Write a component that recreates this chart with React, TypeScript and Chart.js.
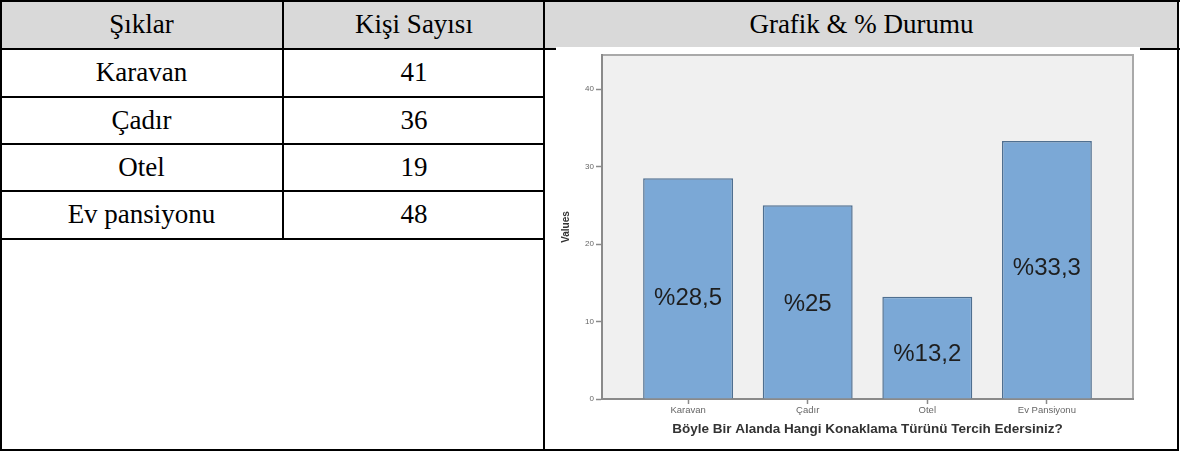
import React, { useEffect, useRef } from "react";
import { Chart, registerables } from "chart.js";

Chart.register(...registerables);

// ---- data ----
const headers = ["Şıklar", "Kişi Sayısı", "Grafik & % Durumu"];
const choices = ["Karavan", "Çadır", "Otel", "Ev pansiyonu"];
const counts = [41, 36, 19, 48];
const chartCategories = ["Karavan", "Çadır", "Otel", "Ev Pansiyonu"];
const percentValues = [28.5, 25, 13.2, 33.3];
const yTicks = [0, 10, 20, 30, 40];
const xTitle = "Böyle Bir Alanda Hangi Konaklama Türünü Tercih Edersiniz?";
const yTitle = "Values";

const serif = '"Liberation Serif", "Times New Roman", serif';
const sans = '"Liberation Sans", Arial, sans-serif';

function Line({ x, y, w, h }: { x: number; y: number; w: number; h: number }) {
  return <div style={{ position: "absolute", left: x, top: y, width: w, height: h, background: "#000" }} />;
}

function Cell({ x, y, w, h, text }: { x: number; y: number; w: number; h: number; text: string }) {
  return (
    <div
      style={{
        position: "absolute",
        left: x,
        top: y,
        width: w,
        height: h,
        display: "flex",
        alignItems: "center",
        justifyContent: "center",
        fontFamily: serif,
        fontSize: 27,
        color: "#000",
        whiteSpace: "nowrap",
      }}
    >
      {text}
    </div>
  );
}

function BarChart() {
  const ref = useRef<HTMLCanvasElement | null>(null);
  useEffect(() => {
    if (!ref.current) return;
    const plotBg = {
      id: "plotBg",
      beforeDraw(chart: any) {
        const { ctx, chartArea: a } = chart;
        ctx.save();
        ctx.fillStyle = "#ffffff";
        ctx.fillRect(0, 0, chart.width, chart.height);
        ctx.fillStyle = "#f0f0f0";
        ctx.fillRect(a.left, a.top, a.right - a.left, a.bottom - a.top);
        ctx.strokeStyle = "#a9a9a9";
        ctx.lineWidth = 2;
        ctx.beginPath();
        ctx.moveTo(a.left, a.top);
        ctx.lineTo(a.right, a.top);
        ctx.lineTo(a.right, a.bottom);
        ctx.stroke();
        ctx.restore();
      },
    };
    const pctLabels = {
      id: "pctLabels",
      afterDatasetsDraw(chart: any, _args: any, opts: any) {
        const { ctx } = chart;
        const meta = chart.getDatasetMeta(0);
        const yScale = chart.scales.y;
        ctx.save();
        ctx.font = '24px "Liberation Sans", Arial, sans-serif';
        ctx.fillStyle = "#1e1e1e";
        ctx.textAlign = "center";
        ctx.textBaseline = "middle";
        meta.data.forEach((bar: any, i: number) => {
          const v = percentValues[i];
          const y = yScale.getPixelForValue(v * opts.fractions[i]);
          ctx.fillText("%" + String(v).replace(".", ","), bar.x, y);
        });
        ctx.restore();
      },
    };
    const chart = new Chart(ref.current, {
      type: "bar",
      data: {
        datasets: [
          {
            data: percentValues.map((v, i) => ({ x: i + 1, y: v })),
            backgroundColor: "#7ba8d6",
            borderColor: "#4f6f90",
            borderWidth: 1.5,
            barPercentage: 0.752,
            categoryPercentage: 1,
          },
        ],
      },
      options: {
        responsive: false,
        animation: false,
        layout: { padding: { top: 8, right: 7, bottom: 0, left: 0 } },
        plugins: {
          legend: { display: false },
          tooltip: { enabled: false },
          pctLabels: { fractions: [0.456, 0.49, 0.44, 0.505] },
        } as any,
        scales: {
          x: {
            type: "linear",
            min: 0.28,
            max: 4.72,
            offset: false,
            afterBuildTicks: (scale: any) => {
              scale.ticks = chartCategories.map((_, i) => ({ value: i + 1 }));
            },
            afterFit: (scale: any) => {
              scale.height = 50;
            },
            ticks: {
              autoSkip: false,
              maxRotation: 0,
              padding: 1,
              color: "#666",
              font: { family: sans, size: 9.5 },
              callback: (v: any) => chartCategories[Math.round(Number(v)) - 1] ?? "",
            },
            grid: { drawOnChartArea: false, drawTicks: true, tickLength: 5, tickColor: "#8a8a8a", tickWidth: 1.5, offset: false },
            border: { display: true, color: "#8a8a8a", width: 2 },
            title: {
              display: true,
              text: xTitle,
              color: "#333",
              font: { family: sans, size: 13.5, weight: "bold" },
              padding: { top: 0, bottom: 12 },
            },
          },
          y: {
            min: 0,
            max: 44.4,
            afterBuildTicks: (scale: any) => {
              scale.ticks = yTicks.map((v) => ({ value: v }));
            },
            afterFit: (scale: any) => {
              scale.width = 46;
            },
            ticks: {
              padding: 2,
              color: "#666",
              font: { family: sans, size: 8 },
            },
            grid: { drawOnChartArea: false, drawTicks: true, tickLength: 6, tickColor: "#8a8a8a", tickWidth: 1.5 },
            border: { display: true, color: "#8a8a8a", width: 2 },
            title: {
              display: true,
              text: yTitle,
              color: "#333",
              font: { family: sans, size: 10, weight: "bold" },
              padding: { top: 4, bottom: 0 },
            },
          },
        },
      },
      plugins: [plotBg, pctLabels],
    } as any);
    return () => chart.destroy();
  }, []);
  return <canvas ref={ref} width={584} height={402} style={{ display: "block", width: 584, height: 402 }} />;
}

export default function App() {
  const rowTops = [49, 97, 144, 191];
  const rowH = 47;
  return (
    <div style={{ position: "fixed", left: 0, top: 0, width: 1180, height: 452, background: "#fff", overflow: "hidden" }}>
      <div style={{ position: "absolute", left: 0, top: 0, width: 1178, height: 48, background: "#d9d9d9" }} />
      <Cell x={0} y={1} w={283} h={47} text={headers[0]} />
      <Cell x={284} y={1} w={260} h={47} text={headers[1]} />
      <Cell x={545} y={1} w={633} h={47} text={headers[2]} />
      {choices.map((c, i) => (
        <React.Fragment key={c}>
          <Cell x={0} y={rowTops[i]} w={283} h={rowH} text={c} />
          <Cell x={284} y={rowTops[i]} w={260} h={rowH} text={String(counts[i])} />
        </React.Fragment>
      ))}
      {/* borders */}
      <Line x={0} y={0} w={1180} h={2} />
      <Line x={0} y={48} w={1180} h={2} />
      {[96, 143, 190, 238].map((y) => (
        <Line key={y} x={0} y={y} w={545} h={2} />
      ))}
      <Line x={0} y={0} w={2} h={451} />
      <Line x={282} y={0} w={2} h={240} />
      <Line x={543} y={0} w={2} h={451} />
      <Line x={1177} y={0} w={2} h={451} />
      <Line x={0} y={449} w={1179} h={2} />
      <div style={{ position: "absolute", left: 556, top: 47, width: 584, height: 402 }}>
        <BarChart />
      </div>
    </div>
  );
}
